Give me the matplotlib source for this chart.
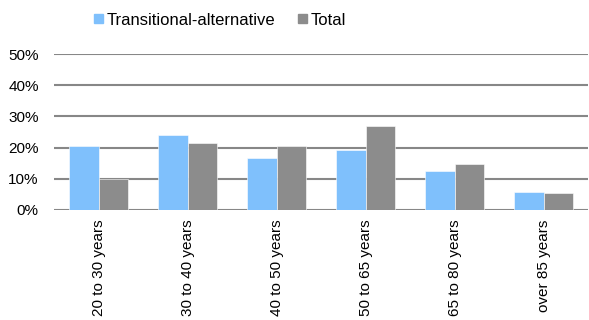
import numpy as np
import matplotlib
matplotlib.use("Agg")
from matplotlib import pyplot as plt
from matplotlib.patches import Patch
from matplotlib.ticker import PercentFormatter

age_groups = ["20 to 30 years", "30 to 40 years", "40 to 50 years",
              "50 to 65 years", "65 to 80 years", "over 85 years"]
transitional = [20.6, 23.9, 16.6, 19.3, 12.4, 5.8]
total = [10.0, 21.6, 20.4, 27.0, 14.6, 5.4]

BLUE = "#7fc0fc"
GREY = "#8c8c8c"

plt.rcParams["font.family"] = ["Liberation Sans", "DejaVu Sans"]

fig = plt.figure(figsize=(5.89, 3.2), dpi=100)
ax = fig.add_axes([0.0917, 0.344, 0.907, 0.487])

x = np.arange(len(age_groups))
w = 0.33
ax.bar(x - w / 2, transitional, w, color=BLUE, edgecolor="white", linewidth=0.4, zorder=3)
ax.bar(x + w / 2, total, w, color=GREY, edgecolor="white", linewidth=0.4, zorder=3)

ax.set_xlim(-0.5, len(age_groups) - 0.5)
ax.set_ylim(0, 50)
ax.set_yticks(range(0, 51, 10))
ax.yaxis.set_major_formatter(PercentFormatter(decimals=0))
ax.grid(axis="y", color="#878787", linewidth=1.5, zorder=0)
ax.set_xticks(x)
ax.set_xticklabels(age_groups, rotation=90, va="top", ha="center")
ax.tick_params(axis="both", length=0, labelsize=11)
ax.tick_params(axis="x", pad=7)
ax.tick_params(axis="y", pad=11)
for s in ax.spines.values():
    s.set_visible(False)

handles = [Patch(color=BLUE, label="Transitional-alternative"),
           Patch(color=GREY, label="Total")]
fig.legend(handles=handles, loc="center left", bbox_to_anchor=(94 / 589, 0.937),
           ncol=2, frameon=False, fontsize=12, handlelength=0.52,
           handleheight=0.5, handletextpad=0.25, columnspacing=1.35,
           borderpad=0, borderaxespad=0)

fig.savefig("out.png", dpi=100)
